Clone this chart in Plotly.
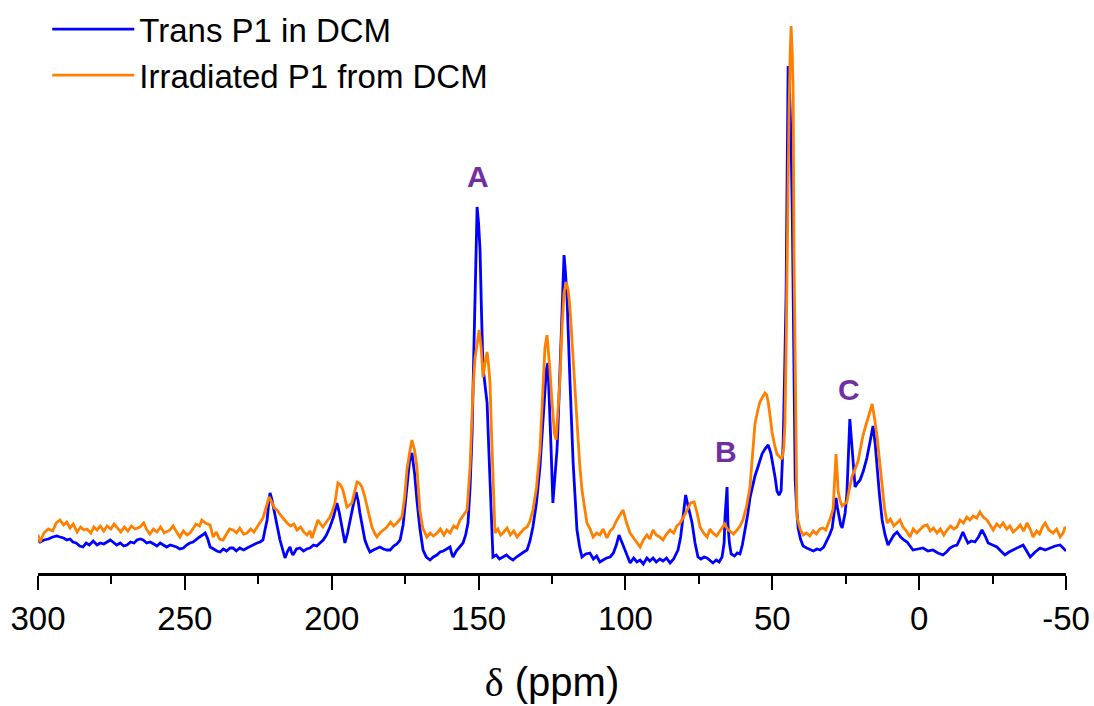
import plotly.graph_objects as go

# Chemical shift (ppm) and intensity (a.u.) for each spectrum
trans_ppm = [300, 299.3, 298.0, 296.5, 295.0, 293.6, 292.5, 291.3, 290.2, 289.1, 288.1, 287.0, 285.8, 284.7,
             283.6, 282.5, 281.2, 279.9, 278.8, 277.6, 276.5, 275.4, 274.5, 273.2, 272.0, 270.8, 269.7, 268.5,
             267.3, 266.3, 265.2, 264.2, 263.0, 261.8, 260.6, 259.5, 258.4, 257.4, 256.2, 255.0, 254.0, 252.8,
             251.7, 250.5, 249.4, 248.3, 247.2, 246.0, 245.0, 244.0, 243.1, 242.2, 241.4, 240.2, 239.1, 238.0,
             236.9, 235.8, 234.6, 233.6, 232.5, 231.3, 230.0, 228.8, 227.6, 226.5, 225.4, 224.4, 223.4, 222.8,
             222.0, 221.5, 221.0, 220.4, 219.8, 219.3, 218.5, 217.6, 216.8, 215.9, 215.0, 214.2, 213.7, 213.2,
             212.0, 210.8, 209.6, 208.5, 207.4, 206.2, 205.1, 204.0, 202.9, 201.8, 200.6, 199.4, 198.2, 197.4,
             196.5, 195.5, 194.6, 193.8, 192.8, 191.7, 191.0, 190.4, 189.5, 188.7, 187.8, 187.0, 185.8, 184.6,
             183.6, 182.4, 181.2, 180.1, 178.9, 177.8, 176.7, 175.7, 175.0, 174.4, 173.5, 172.7, 171.8, 171.0,
             170.0, 168.9, 167.8, 166.5, 165.4, 164.2, 163.1, 162.0, 160.9, 159.7, 159.2, 158.7, 157.6, 156.5,
             155.3, 154.4, 153.6, 152.9, 152.2, 151.7, 151.2, 150.8, 150.5, 150.0, 149.5, 149.0, 148.5, 147.8,
             147.1, 146.6, 146.1, 145.6, 145.1, 144.0, 142.9, 141.7, 140.5, 139.4, 138.3, 137.1, 135.8, 134.6,
             133.5, 132.5, 131.5, 130.3, 129.1, 128.2, 127.4, 126.9, 126.4, 125.8, 125.3, 124.7, 124.0, 123.3,
             123.0, 122.3, 121.6, 121.2, 120.9, 120.4, 119.9, 118.9, 117.8, 116.5, 115.6, 114.8, 113.5, 112.1,
             110.9, 109.8, 108.7, 107.6, 106.4, 105.2, 104.1, 103.1, 102.2, 101.1, 100.1, 99.2, 98.4, 97.2,
             96.1, 95.0, 93.9, 92.7, 91.7, 90.6, 89.5, 88.3, 87.2, 86.0, 84.8, 83.6, 82.9, 82.1,
             81.2, 80.3, 79.5, 78.9, 78.3, 77.3, 76.3, 75.3, 74.3, 73.2, 72.2, 71.2, 70.2, 69.1,
             68.1, 67.1, 66.4, 66.1, 65.7, 65.4, 65.1, 64.6, 64.0, 62.9, 61.9, 61.0, 60.2, 59.3,
             58.4, 57.6, 56.7, 55.9, 55.0, 54.3, 53.5, 52.5, 51.9, 51.4, 50.5, 49.7, 49.0, 48.4,
             47.7, 47.0, 46.3, 45.8, 45.3, 45.0, 44.6, 44.1, 43.6, 43.2, 42.9, 42.5, 42.2, 41.7,
             41.2, 40.4, 39.5, 38.3, 37.1, 36.0, 34.8, 33.7, 32.5, 31.4, 30.5, 29.6, 28.9, 28.3,
             27.8, 27.3, 26.7, 26.2, 25.7, 25.2, 24.6, 24.1, 23.6, 23.1, 22.5, 21.8, 21.0, 20.1,
             19.0, 17.8, 16.8, 16.2, 15.7, 15.0, 14.3, 13.5, 12.6, 11.6, 10.6, 9.6, 8.6, 7.5,
             6.3, 5.2, 4.1, 3.1, 2.1, 0.4, -1.3, -3.0, -4.7, -6.4, -8.1, -9.3, -10.5, -11.7,
             -12.9, -13.9, -14.9, -15.8, -16.6, -17.8, -19.0, -20.2, -21.4, -22.5, -23.5, -25.0, -26.5, -27.8,
             -29.2, -30.6, -32.0, -33.7, -35.4, -36.6, -37.8, -39.5, -41.2, -42.9, -44.6, -46.3, -48.0, -49.7,
             -50.0]
trans_int = [33, 31, 33, 34, 36, 37, 36, 35, 33, 34, 31, 30, 27, 26,
             30, 28, 32, 28, 30, 29, 31, 33, 31, 28, 30, 27, 28, 31,
             30, 33, 34, 33, 30, 31, 29, 27, 30, 28, 26, 28, 27, 26,
             24, 25, 28, 30, 31, 34, 36, 38, 40, 34, 26, 24, 22, 21,
             24, 22, 25, 25, 22, 25, 23, 25, 27, 28, 30, 31, 33, 42,
             53, 68, 80, 74, 66, 60, 46, 33, 24, 15, 22, 26, 21, 18,
             24, 25, 22, 24, 25, 28, 27, 30, 33, 38, 46, 56, 70, 60,
             46, 30, 40, 53, 66, 81, 72, 60, 45, 33, 26, 21, 23, 25,
             26, 24, 23, 23, 27, 29, 33, 48, 68, 90, 112, 120, 100, 73,
             45, 23, 16, 13, 16, 18, 21, 22, 24, 26, 20, 16, 22, 26,
             30, 38, 50, 85, 140, 210, 290, 340, 366, 350, 323, 260, 206, 188,
             170, 130, 90, 50, 16, 18, 14, 16, 18, 15, 13, 16, 19, 21,
             23, 32, 46, 70, 106, 150, 190, 204, 210, 170, 123, 70, 95, 123,
             143, 200, 243, 290, 318, 300, 276, 193, 110, 43, 26, 16, 19, 20,
             14, 17, 11, 13, 15, 16, 20, 28, 38, 30, 23, 15, 10, 15,
             11, 13, 9, 15, 12, 15, 11, 14, 12, 15, 10, 14, 18, 23,
             36, 60, 78, 70, 62, 50, 30, 16, 14, 16, 15, 12, 10, 13,
             11, 16, 30, 56, 80, 86, 49, 30, 19, 17, 20, 19, 28, 42,
             58, 75, 88, 97, 105, 112, 119, 124, 127, 128, 120, 108, 95, 82,
             78, 82, 130, 200, 278, 380, 507, 480, 433, 360, 278, 180, 93, 65,
             45, 34, 27, 25, 23, 22, 24, 23, 26, 32, 38, 45, 60, 75,
             65, 56, 48, 45, 52, 60, 79, 120, 154, 135, 112, 86, 90, 93,
             102, 115, 130, 140, 147, 130, 103, 78, 53, 38, 28, 33, 38, 41,
             36, 33, 31, 27, 23, 24, 25, 22, 23, 20, 18, 21, 25, 27,
             28, 34, 41, 35, 30, 32, 31, 36, 43, 37, 30, 28, 26, 22,
             18, 21, 23, 25, 28, 22, 16, 21, 25, 23, 25, 27, 28, 23,
             24]

irr_ppm = [300, 299.3, 298.0, 296.5, 295.0, 293.8, 292.5, 291.3, 290.2, 289.1, 288.0, 286.7, 285.5, 284.4,
           283.3, 282.0, 281.0, 279.9, 278.8, 277.6, 276.5, 275.2, 274.1, 273.1, 271.8, 270.6, 269.4, 268.2,
           267.0, 265.3, 264.0, 262.9, 261.9, 260.7, 259.5, 258.3, 257.0, 255.1, 254.0, 252.8, 251.7, 250.5,
           249.3, 248.2, 247.2, 246.2, 245.0, 244.2, 243.0, 241.4, 240.4, 239.3, 238.2, 237.0, 236.0, 234.8,
           233.6, 232.4, 231.3, 230.0, 228.8, 227.6, 226.5, 225.4, 224.3, 223.4, 222.3, 221.3, 220.4, 219.5,
           218.6, 217.5, 216.3, 215.2, 214.0, 212.9, 211.8, 210.6, 209.5, 208.4, 207.4, 206.7, 205.7, 204.7,
           203.8, 203.0, 201.8, 200.6, 199.8, 198.9, 197.9, 197.0, 196.2, 195.4, 194.8, 193.9, 193.1, 192.3,
           191.4, 190.6, 189.7, 188.8, 188.0, 187.1, 186.3, 185.4, 184.6, 183.6, 182.4, 181.2, 180.0, 178.9,
           177.8, 176.9, 176.1, 175.2, 174.4, 173.5, 172.7, 171.8, 171.0, 170.0, 169.0, 167.6, 166.5, 165.4,
           164.1, 163.0, 161.8, 160.8, 159.7, 158.5, 157.4, 156.3, 155.1, 153.9, 152.9, 151.9, 151.2, 150.5,
           149.8, 149.1, 148.5, 147.8, 147.1, 146.6, 146.1, 145.6, 145.1, 144.4, 143.4, 142.5, 141.7, 140.3,
           139.2, 138.0, 136.9, 135.8, 134.6, 133.5, 132.5, 131.5, 130.3, 129.1, 128.1, 127.4, 126.7, 126.2,
           125.7, 125.2, 124.7, 124.2, 123.6, 123.0, 122.3, 121.6, 120.9, 120.2, 119.5, 118.9, 117.8, 116.5,
           115.6, 114.8, 113.9, 113.1, 112.0, 111.0, 109.8, 108.7, 107.6, 106.3, 105.2, 104.2, 102.9, 101.8,
           100.8, 99.6, 98.4, 97.2, 96.1, 95.0, 93.9, 92.7, 91.7, 90.6, 89.5, 88.3, 87.2, 86.0,
           84.8, 83.6, 82.5, 81.4, 80.2, 79.0, 77.8, 76.6, 75.6, 74.6, 73.4, 72.2, 71.2, 70.2,
           69.0, 67.8, 66.2, 65.3, 64.5, 63.2, 62.0, 61.0, 60.0, 58.8, 57.6, 56.7, 55.9, 55.0,
           54.2, 53.3, 52.5, 51.9, 51.4, 50.7, 50.1, 49.2, 48.4, 47.5, 46.7, 46.1, 45.7, 45.3,
           45.0, 44.6, 44.3, 43.9, 43.6, 43.2, 42.9, 42.6, 42.2, 41.9, 41.6, 40.5, 39.5, 38.4,
           37.2, 36.1, 35.0, 33.8, 32.7, 31.8, 31.0, 30.2, 29.3, 28.8, 28.3, 27.9, 27.6, 26.9,
           26.2, 25.4, 24.6, 23.7, 22.8, 21.8, 20.8, 20.0, 19.1, 18.3, 17.4, 16.7, 16.0, 15.2,
           14.3, 13.4, 12.6, 11.8, 10.9, 9.8, 8.6, 7.5, 6.5, 5.5, 4.3, 3.1, 2.0, 0.8,
           -0.3, -1.5, -2.7, -3.8, -4.9, -6.1, -7.2, -8.4, -9.5, -10.7, -11.8, -12.9, -13.9, -15.1,
           -16.2, -17.3, -18.4, -19.6, -20.7, -21.8, -23.1, -24.2, -25.2, -26.4, -27.5, -28.6, -29.8, -30.9,
           -32.0, -33.2, -34.4, -35.6, -36.7, -37.8, -38.8, -40.0, -41.0, -42.0, -42.9, -44.2, -45.6, -46.8,
           -48.0, -49.0, -49.7, -50.0]
irr_int = [38, 31, 40, 44, 42, 50, 53, 48, 51, 45, 49, 41, 46, 43,
           44, 40, 46, 43, 47, 42, 47, 44, 49, 45, 41, 46, 42, 47,
           44, 46, 50, 43, 39, 44, 41, 46, 40, 43, 47, 41, 36, 42,
           38, 40, 45, 49, 47, 53, 50, 48, 36, 41, 34, 33, 38, 44,
           43, 40, 45, 39, 40, 44, 41, 46, 50, 55, 66, 76, 71, 65,
           63, 58, 54, 50, 47, 49, 43, 46, 41, 38, 42, 35, 44, 53,
           49, 46, 51, 56, 62, 70, 90, 88, 83, 74, 66, 68, 70, 80,
           91, 90, 86, 77, 66, 55, 46, 40, 36, 40, 43, 46, 51, 47,
           50, 53, 56, 75, 103, 120, 133, 123, 106, 63, 45, 36, 40, 37,
           40, 44, 38, 43, 40, 47, 45, 53, 58, 63, 106, 183, 215, 230,
           243, 225, 196, 210, 221, 208, 190, 140, 90, 40, 44, 38, 40, 45,
           38, 42, 36, 40, 44, 46, 52, 63, 85, 123, 190, 225, 238, 222,
           203, 180, 156, 140, 133, 160, 193, 245, 280, 291, 283, 266, 210, 143,
           110, 83, 64, 50, 44, 36, 40, 38, 44, 35, 42, 45, 53, 58,
           63, 50, 40, 35, 31, 26, 33, 38, 34, 43, 38, 36, 33, 39,
           43, 40, 47, 50, 56, 63, 70, 71, 60, 46, 40, 36, 44, 40,
           37, 42, 49, 44, 42, 39, 43, 47, 53, 66, 86, 120, 149, 162,
           171, 176, 180, 178, 171, 156, 141, 128, 119, 116, 114, 125, 149, 220,
           315, 400, 462, 520, 547, 520, 481, 315, 220, 149, 56, 44, 38, 40,
           37, 42, 39, 44, 45, 43, 49, 55, 64, 95, 119, 100, 82, 72,
           67, 69, 71, 85, 97, 104, 112, 124, 138, 146, 156, 162, 169, 155,
           136, 110, 86, 65, 50, 54, 47, 50, 53, 46, 42, 36, 44, 40,
           43, 47, 48, 42, 45, 40, 44, 38, 43, 47, 44, 46, 53, 50,
           56, 53, 57, 55, 61, 56, 53, 48, 43, 49, 46, 50, 44, 47,
           41, 44, 48, 42, 50, 44, 36, 42, 39, 46, 50, 43, 40, 44,
           36, 40, 46, 44]

series_names = ["Trans P1 in DCM", "Irradiated P1 from DCM"]
series_colors = ["#0000FF", "#FF7F00"]

# Axis ticks (plain hyphen for the negative label)
tick_values = [300, 250, 200, 150, 100, 50, 0, -50]
tick_labels = ["300", "250", "200", "150", "100", "50", "0", "-50"]

# Peak labels: (text, ppm, intensity)
peak_labels = [("A", 150.2, 397), ("B", 65.7, 122), ("C", 23.9, 184)]

fig = go.Figure()
for name, color, xs, ys in [
    (series_names[0], series_colors[0], trans_ppm, trans_int),
    (series_names[1], series_colors[1], irr_ppm, irr_int),
]:
    fig.add_trace(go.Scatter(x=xs, y=ys, mode="lines", name=name,
                             line=dict(color=color, width=2.8)))

for text, px, py in peak_labels:
    fig.add_annotation(x=px, y=py, text=f"<b>{text}</b>", showarrow=False,
                       font=dict(size=30, color="#7030A0", family="Liberation Sans, Arial"))

fig.update_layout(
    width=1094, height=706,
    margin=dict(l=38, r=28, t=13, b=133, autoexpand=False),
    paper_bgcolor="white", plot_bgcolor="white",
    font=dict(family="Liberation Sans, Arial", color="black"),
    showlegend=True,
    legend=dict(x=0.009, y=1.021, xanchor="left", yanchor="top",
                bgcolor="rgba(0,0,0,0)", borderwidth=0,
                font=dict(size=33), itemwidth=82, tracegroupgap=0),
    xaxis=dict(
        range=[300, -50], showgrid=False, zeroline=False, automargin=False,
        showline=True, linecolor="black", linewidth=3,
        ticks="outside", tickwidth=2, ticklen=14, tickcolor="black",
        tickvals=tick_values, ticktext=tick_labels,
        minor=dict(ticks="outside", ticklen=8, tickwidth=2, dtick=25, tick0=0, tickcolor="black"),
        tickfont=dict(size=33),
        title=dict(text='<span style="font-family:Liberation Serif">δ</span> (ppm)',
                   font=dict(size=40), standoff=33),
    ),
    yaxis=dict(range=[0, 560], visible=False, showgrid=False, zeroline=False),
)

fig.write_html("out.html")
